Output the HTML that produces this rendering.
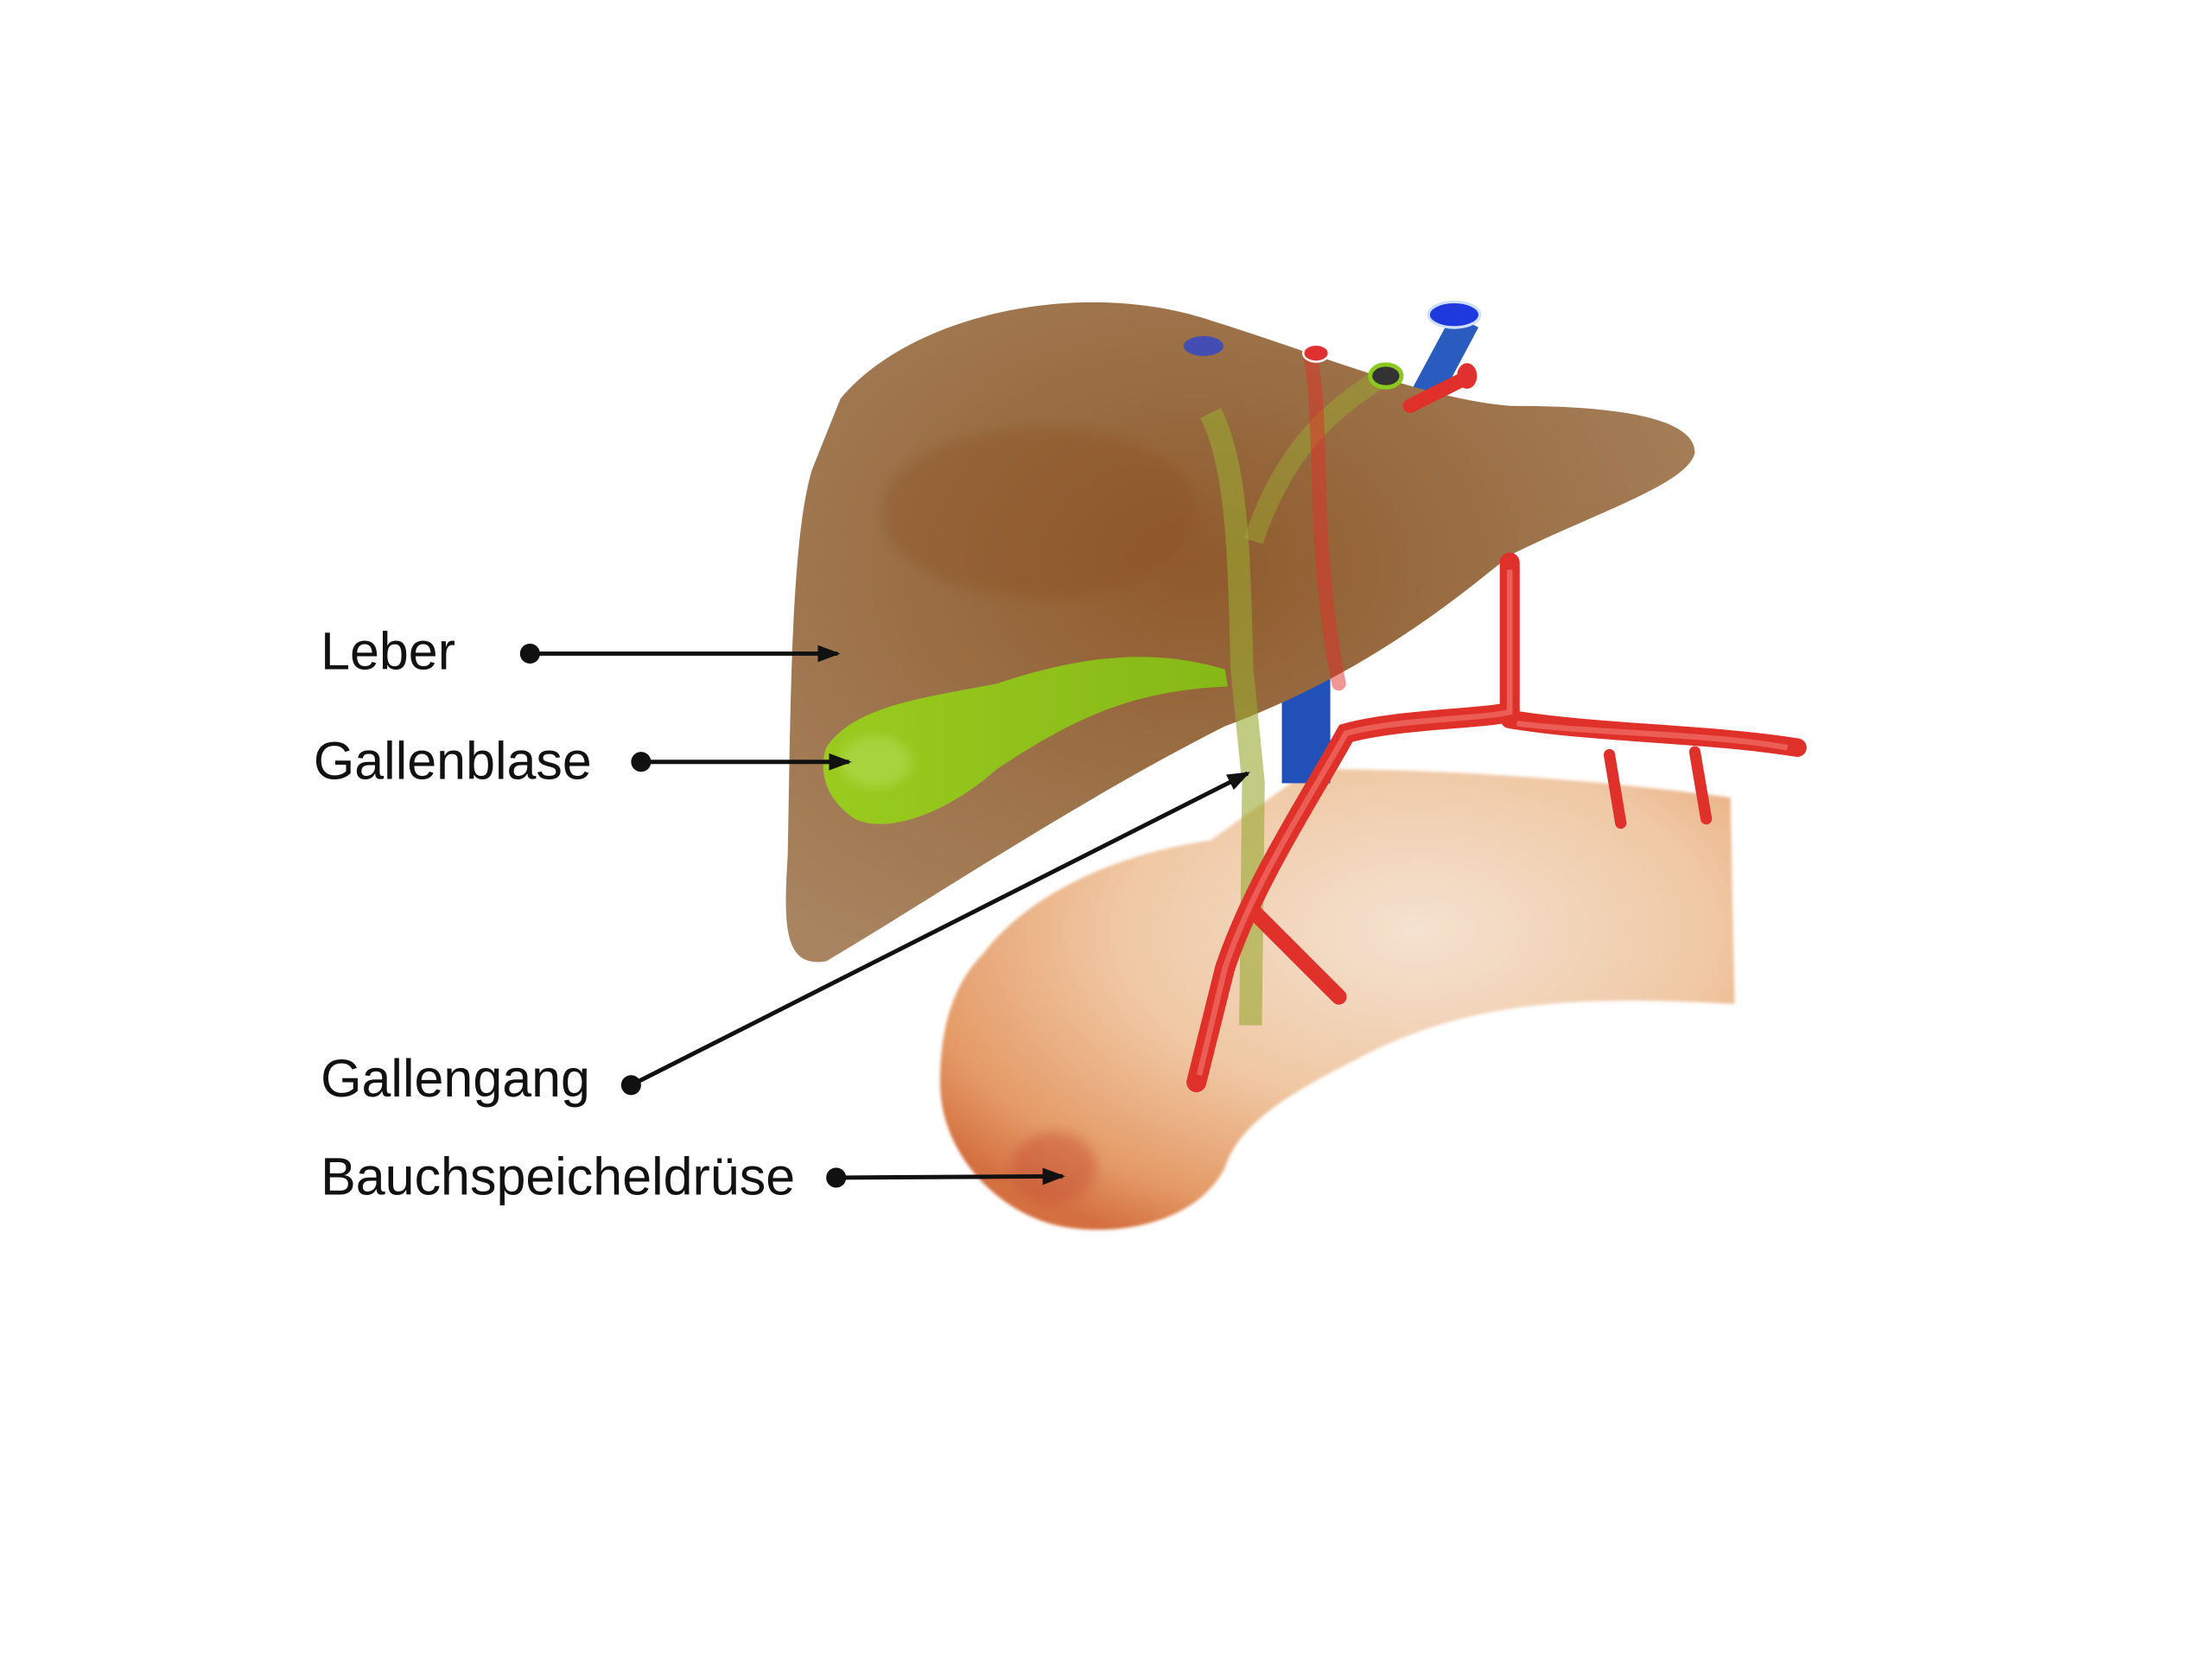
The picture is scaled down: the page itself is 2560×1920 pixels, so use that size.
<!DOCTYPE html>
<html><head><meta charset="utf-8"><style>
html,body{margin:0;padding:0;background:#fff;width:2560px;height:1920px;overflow:hidden}
svg{display:block}
text{font-family:"Liberation Sans",sans-serif;fill:#111}
</style></head><body>
<svg width="2560" height="1920" viewBox="0 0 1553 1165" xmlns="http://www.w3.org/2000/svg">
<defs>
<radialGradient id="liv" cx="0.45" cy="0.4" r="0.7">
<stop offset="0" stop-color="#8f5a2c"/><stop offset="0.5" stop-color="#9c7148"/><stop offset="1" stop-color="#a88460"/></radialGradient>
<radialGradient id="pan" cx="0.6" cy="0.35" r="0.75">
<stop offset="0" stop-color="#f4e2d0"/><stop offset="0.5" stop-color="#f0c8a4"/><stop offset="0.85" stop-color="#e49a66"/><stop offset="1" stop-color="#d47040"/></radialGradient>
<linearGradient id="gb" x1="0" y1="0" x2="1" y2="0"><stop offset="0" stop-color="#9acb1e"/><stop offset="1" stop-color="#86b818"/></linearGradient>
<filter id="bl"><feGaussianBlur stdDeviation="4"/></filter>
<filter id="bl2"><feGaussianBlur stdDeviation="1.2"/></filter>
<marker id="ar" markerWidth="16" markerHeight="12" refX="14" refY="6" orient="auto" markerUnits="userSpaceOnUse"><path d="M0,0 L16,6 L0,12 Z" fill="#111"/></marker>
</defs>
<path d="M690,670 C720,630 780,600 850,590 L920,540 C1000,540 1100,545 1215,560 L1218,705 C1120,700 1040,700 960,740 C900,770 870,790 860,820 C840,860 780,870 740,860 C700,850 660,810 660,760 C660,720 670,690 690,670 Z" fill="url(#pan)" filter="url(#bl2)"/>
<ellipse cx="740" cy="820" rx="30" ry="25" fill="#c8553a" opacity="0.5" filter="url(#bl)"/>
<rect x="900" y="470" width="34" height="80" fill="#2050b8"/>
<path d="M985,285 L1020,220 L1038,230 L1005,292 Z" fill="#2a5cc0"/>
<ellipse cx="1021" cy="221" rx="18" ry="9" fill="#1e3adf" stroke="#cfe0ff" stroke-width="2"/>
<path d="M590,280 C640,220 760,195 850,225 C930,250 1000,280 1060,285 C1120,285 1190,290 1190,318 C1185,340 1120,360 1060,390 C1000,440 940,480 860,510 C760,560 640,640 580,675 C550,680 550,650 553,600 C555,500 555,380 570,330 Z" fill="url(#liv)"/>
<ellipse cx="730" cy="360" rx="110" ry="60" fill="#8a5020" opacity="0.35" filter="url(#bl)"/>
<path d="M580,525 C600,495 650,490 700,480 C760,460 810,455 860,470 L862,482 C800,485 760,500 700,540 C660,575 620,585 600,575 C578,560 575,540 580,525 Z" fill="url(#gb)"/>
<ellipse cx="615" cy="535" rx="25" ry="18" fill="#b8e060" opacity="0.5" filter="url(#bl)"/>
<path d="M850,290 C870,330 870,400 872,470 L880,550 L878,720" stroke="#9aa832" stroke-width="16" fill="none" opacity="0.6"/>
<path d="M970,265 C930,290 900,320 880,380" stroke="#9aa832" stroke-width="14" fill="none" opacity="0.5"/>
<g stroke="#e0302a" fill="none" stroke-linecap="round">
<path d="M1060,395 L1060,500 C1040,505 980,505 945,515 C920,560 880,620 860,680 L840,760" stroke-width="14"/>
<path d="M880,640 L940,700" stroke-width="11"/>
<path d="M1060,505 C1120,515 1200,515 1262,525" stroke-width="13"/>
<path d="M1130,530 L1138,578" stroke-width="8"/>
<path d="M1190,528 L1198,575" stroke-width="8"/>
<path d="M920,250 C930,300 920,380 940,480" stroke-width="10" opacity="0.5"/>
<path d="M990,285 L1030,265" stroke-width="10"/>
</g>
<g stroke="#f07068" fill="none" stroke-width="4" opacity="0.7">
<path d="M1060,400 L1060,500 C1040,505 980,505 945,515 C920,560 880,620 860,680 L842,755"/>
<path d="M1065,508 C1120,515 1200,515 1255,525"/>
</g>
<ellipse cx="924" cy="248" rx="9" ry="6" fill="#e03030" stroke="#fff" stroke-width="1.5"/>
<ellipse cx="1030" cy="264" rx="7" ry="9" fill="#e03030"/>
<ellipse cx="973" cy="264" rx="11" ry="8" fill="#333" stroke="#8cc820" stroke-width="3"/>
<ellipse cx="845" cy="243" rx="14" ry="7" fill="#2040e0" opacity="0.7"/>
<g font-size="37">
<text x="225" y="470">Leber</text>
<text x="220" y="547">Gallenblase</text>
<text x="225" y="770">Gallengang</text>
<text x="225" y="839">Bauchspeicheldrüse</text>
</g>
<g stroke="#111" stroke-width="3" fill="none">
<line x1="372" y1="459" x2="588" y2="459" marker-end="url(#ar)"/>
<line x1="450" y1="535" x2="596" y2="535" marker-end="url(#ar)"/>
<line x1="443" y1="762" x2="876" y2="543" marker-end="url(#ar)"/>
<line x1="587" y1="827" x2="746" y2="826" marker-end="url(#ar)"/>
</g>
<g fill="#111">
<circle cx="372" cy="459" r="7"/><circle cx="450" cy="535" r="7"/><circle cx="443" cy="762" r="7"/><circle cx="587" cy="827" r="7"/>
</g>
</svg>
</body></html>
